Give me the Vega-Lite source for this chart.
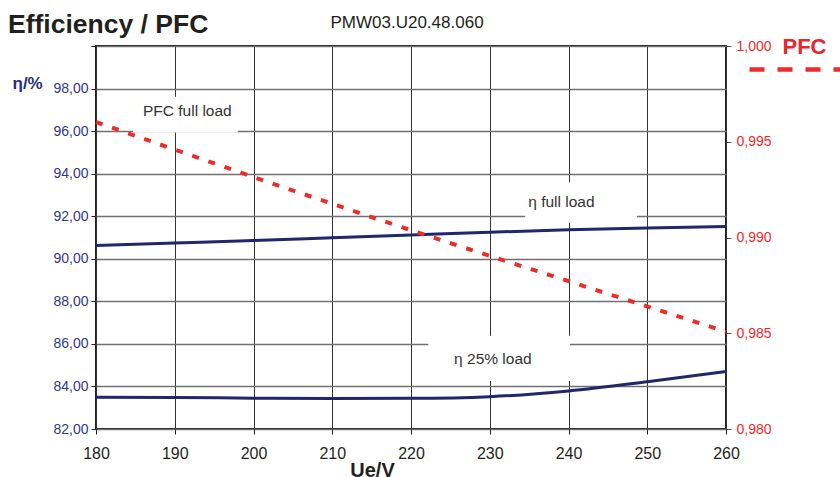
{
  "$schema": "https://vega.github.io/schema/vega-lite/v6.json",
  "width": 630,
  "height": 383,
  "autosize": {"type": "none"},
  "padding": {"left": 96, "top": 46, "right": 114, "bottom": 48},
  "background": "white",
  "title": {"text": "Efficiency / PFC", "anchor": "start", "frame": "group", "dx": -88, "dy": 46, "offset": 0, "fontSize": 26.5, "font": "Liberation Sans", "fontWeight": "bold", "color": "#231f20", "baseline": "alphabetic"},
  "config": {
    "view": {"stroke": "#231f20", "strokeWidth": 2},
    "axis": {"labelFont": "Liberation Sans", "titleFont": "Liberation Sans", "labelFlush": false, "labelOverlap": false},
    "legend": {"labelFont": "Liberation Sans"}
  },
  "datasets": {
    "labels": [
      {"text": "PFC full load", "tx": 191.6, "ty": 96.96, "x1": 184.7, "x2": 198.0, "y1": 95.93, "y2": 97.62},
      {"text": "η full load", "tx": 239.1, "ty": 92.65, "x1": 234.5, "x2": 248.7, "y1": 91.69, "y2": 93.58},
      {"text": "η 25% load", "tx": 230.4, "ty": 85.29, "x1": 222.2, "x2": 240.2, "y1": 84.26, "y2": 86.38}
    ],
    "eff": [
      {"U": 180, "series": "η full load", "value": 90.62},
      {"U": 190, "series": "η full load", "value": 90.74},
      {"U": 200, "series": "η full load", "value": 90.86},
      {"U": 210, "series": "η full load", "value": 90.99},
      {"U": 220, "series": "η full load", "value": 91.12},
      {"U": 230, "series": "η full load", "value": 91.25},
      {"U": 240, "series": "η full load", "value": 91.36},
      {"U": 250, "series": "η full load", "value": 91.45},
      {"U": 260, "series": "η full load", "value": 91.52},
      {"U": 180, "series": "η 25% load", "value": 83.49},
      {"U": 190, "series": "η 25% load", "value": 83.48},
      {"U": 200, "series": "η 25% load", "value": 83.45},
      {"U": 210, "series": "η 25% load", "value": 83.43},
      {"U": 220, "series": "η 25% load", "value": 83.44},
      {"U": 230, "series": "η 25% load", "value": 83.52},
      {"U": 240, "series": "η 25% load", "value": 83.79},
      {"U": 250, "series": "η 25% load", "value": 84.22},
      {"U": 260, "series": "η 25% load", "value": 84.70}
    ],
    "pfc": [
      {"U": 180, "pfc": 0.99603},
      {"U": 190, "pfc": 0.99459},
      {"U": 200, "pfc": 0.99316},
      {"U": 210, "pfc": 0.99176},
      {"U": 220, "pfc": 0.99038},
      {"U": 230, "pfc": 0.98904},
      {"U": 240, "pfc": 0.98772},
      {"U": 250, "pfc": 0.98640},
      {"U": 260, "pfc": 0.98508}
    ]
  },
  "layer": [
    {
      "data": {"name": "labels"},
      "mark": {"type": "rect", "fill": "white", "strokeWidth": 0},
      "encoding": {
        "x": {"field": "x1", "type": "quantitative",
          "scale": {"domain": [180, 260], "nice": false, "zero": false},
          "axis": {"orient": "bottom", "values": [180, 190, 200, 210, 220, 230, 240, 250, 260], "grid": true, "gridColor": "#333333", "gridWidth": 1, "tickSize": 5, "tickColor": "#231f20", "tickWidth": 1, "domain": false, "labelFontSize": 16, "labelColor": "#231f20", "labelPadding": 11, "title": "Ue/V", "titleFontSize": 20, "titleFontWeight": "bold", "titleColor": "#231f20", "titleX": 276, "titleY": 47, "titleAlign": "center", "titleBaseline": "alphabetic"}},
        "x2": {"field": "x2"},
        "y": {"field": "y1", "type": "quantitative",
          "scale": {"domain": [82, 100], "nice": false, "zero": false},
          "axis": {"orient": "left", "values": [82, 84, 86, 88, 90, 92, 94, 96, 98, 100], "grid": true, "gridColor": "#707070", "gridWidth": 1.5, "tickSize": 5, "tickColor": "#231f20", "domain": false, "labelExpr": "datum.value >= 100 ? '' : replace(format(datum.value, '.2f'), '.', ',')", "labelFontSize": 14, "labelColor": "#33378a", "labelPadding": 3, "title": "η/%", "titleAngle": 0, "titleAlign": "left", "titleBaseline": "alphabetic", "titleX": -84, "titleY": 42, "titleFontSize": 17, "titleFontWeight": "bold", "titleColor": "#2b2f7e"}},
        "y2": {"field": "y2"}
      }
    },
    {
      "data": {"name": "labels"},
      "mark": {"type": "text", "font": "Liberation Sans", "fontSize": 15.5, "color": "#333333", "align": "center", "baseline": "middle"},
      "encoding": {
        "x": {"field": "tx", "type": "quantitative", "axis": null},
        "y": {"field": "ty", "type": "quantitative", "scale": {"domain": [82, 100], "nice": false, "zero": false}, "axis": null},
        "text": {"field": "text"}
      }
    },
    {
      "data": {"name": "eff"},
      "mark": {"type": "line", "color": "#22266b", "strokeWidth": 3, "interpolate": "monotone"},
      "encoding": {
        "x": {"field": "U", "type": "quantitative", "axis": null},
        "y": {"field": "value", "type": "quantitative", "scale": {"domain": [82, 100], "nice": false, "zero": false}, "axis": null},
        "detail": {"field": "series"}
      }
    },
    {
      "data": {"name": "pfc"},
      "mark": {"type": "line", "strokeWidth": 4, "strokeDash": [7, 10], "interpolate": "monotone"},
      "encoding": {
        "x": {"field": "U", "type": "quantitative",
          "axis": {"orient": "top", "labels": false, "ticks": false, "domain": false, "grid": false, "title": "PMW03.U20.48.060", "titleX": 234, "titleY": -19, "titleAlign": "left", "titleBaseline": "alphabetic", "titleFontSize": 17, "titleFontWeight": "normal", "titleColor": "#231f20"}},
        "y": {"field": "pfc", "type": "quantitative",
          "scale": {"domain": [0.98, 1.0], "nice": false, "zero": false},
          "axis": {"orient": "right", "values": [0.98, 0.985, 0.99, 0.995, 1.0], "grid": false, "domain": false, "tickSize": 5, "tickColor": "#555555", "labelExpr": "replace(format(datum.value, '.3f'), '.', ',')", "labelColor": "#ee2b2b", "labelFontSize": 14, "labelPadding": 5, "title": "PFC", "titleAngle": 0, "titleAlign": "left", "titleBaseline": "middle", "titleX": 56, "titleY": 0, "titleColor": "#e8262b", "titleFontSize": 22, "titleFontWeight": "bold"}},
        "color": {"datum": "PFC", "scale": {"domain": ["PFC"], "range": ["#ee2b2b"]},
          "legend": {"orient": "none", "legendX": 651, "legendY": -29, "title": null, "symbolType": "stroke", "symbolSize": 10000, "symbolStrokeWidth": 4.5, "symbolDash": [15, 13], "symbolStrokeColor": "#e8262b", "labelExpr": "''", "padding": 0}}
      }
    }
  ],
  "resolve": {"scale": {"y": "independent"}, "axis": {"x": "independent", "y": "independent"}}
}
